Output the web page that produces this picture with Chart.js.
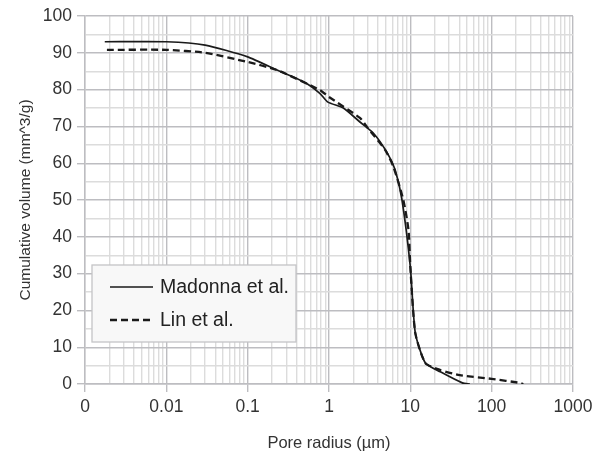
<!DOCTYPE html>
<html>
<head>
<meta charset="utf-8">
<script src="https://cdn.jsdelivr.net/npm/chart.js@4/dist/chart.umd.min.js"></script>
<style>
  html, body { margin: 0; padding: 0; background: #fff; }
  #wrap { width: 603px; height: 455px; position: relative; }
</style>
</head>
<body>
<div id="wrap"><canvas id="poreChart"></canvas></div>
<script>
// Courbes de porosimétrie : rayon de pore (µm) -> volume cumulé (mm^3/g)
const madonnaRadius = [0.00175, 0.01, 0.03, 0.1, 0.23, 0.5, 0.77, 0.97, 1.5, 2.4, 3.5, 5.2, 6.5, 7.9, 10, 11.5, 15.3, 23.4, 43.6, 54];
const madonnaVolume = [93, 93, 92.1, 88.9, 85.3, 82, 79, 76.6, 75, 71.2, 68.2, 62.8, 58.2, 50, 31.8, 13.9, 5.7, 3.3, 0.3, 0];

const linRadius = [0.00186, 0.01, 0.03, 0.1, 0.23, 0.77, 1, 2.4, 2.94, 4.9, 6.2, 8.2, 9.5, 10, 11.5, 15.3, 23.4, 40.6, 100, 223, 245];
const linVolume = [90.8, 90.8, 90, 87.5, 85.3, 79.9, 78, 72.3, 69.8, 63.6, 59, 50, 41.8, 31.8, 13.9, 5.7, 3.8, 2.4, 1.4, 0.3, 0];

// graduations de l'axe log (décades) et leurs libellés
const xDecades = [0.001, 0.01, 0.1, 1, 10, 100, 1000];
const xDecadeLabels = ['0', '0.01', '0.1', '1', '10', '100', '1000'];
const yMajorStep = 10;
const yMinorStep = 5;

const MAJOR_GRID = '#bdbdc1';
const MINOR_GRID = '#dcdcdc';
const TEXT = '#333333';
const FONT = "'Liberation Sans', Arial, sans-serif";

function toPoints(xs, ys) {
    return xs.map((x, i) => ({ x: x, y: ys[i] }));
}

function decadeIndex(v) {
    return xDecades.findIndex(d => Math.abs(Math.log10(v) - Math.log10(d)) < 1e-6);
}

// légende dessinée dans la zone du graphique
const insideLegend = {
    id: 'insideLegend',
    afterDatasetsDraw(chart, args, opts) {
        const ctx = chart.ctx;
        const a = chart.chartArea;
        const x = a.left + opts.offsetX;
        const y = a.top + opts.offsetY;
        ctx.save();
        ctx.fillStyle = '#f8f8f8';
        ctx.strokeStyle = '#c4c4c6';
        ctx.lineWidth = 1.3;
        ctx.fillRect(x, y, opts.width, opts.height);
        ctx.strokeRect(x, y, opts.width, opts.height);
        ctx.font = opts.fontSize + 'px ' + FONT;
        ctx.textBaseline = 'middle';
        chart.data.datasets.forEach((ds, i) => {
            const ly = y + opts.firstRow + i * opts.rowGap;
            ctx.beginPath();
            ctx.strokeStyle = ds.borderColor;
            ctx.lineWidth = ds.borderWidth;
            ctx.setLineDash(ds.borderDash || []);
            ctx.moveTo(x + 18, ly);
            ctx.lineTo(x + 61, ly);
            ctx.stroke();
            ctx.setLineDash([]);
            ctx.fillStyle = '#222';
            ctx.fillText(ds.label, x + 68, ly + 1);
        });
        ctx.restore();
    }
};

new Chart(document.getElementById('poreChart'), {
    type: 'line',
    data: {
        datasets: [
            {
                label: 'Madonna et al.',
                data: toPoints(madonnaRadius, madonnaVolume),
                borderColor: '#1a1a1a',
                borderWidth: 1.7,
                pointRadius: 0,
                tension: 0.2,
                fill: false
            },
            {
                label: 'Lin et al.',
                data: toPoints(linRadius, linVolume),
                borderColor: '#1a1a1a',
                borderWidth: 2.3,
                borderDash: [7, 4],
                pointRadius: 0,
                tension: 0.2,
                fill: false
            }
        ]
    },
    options: {
        responsive: true,
        maintainAspectRatio: false,
        animation: false,
        layout: { padding: { top: 16, right: 30, left: 0, bottom: 0 } },
        plugins: {
            legend: { display: false },
            tooltip: { enabled: false },
            insideLegend: {
                offsetX: 7, offsetY: 249, width: 204, height: 77,
                firstRow: 22, rowGap: 33, fontSize: 19.5
            }
        },
        scales: {
            x: {
                type: 'logarithmic',
                min: xDecades[0],
                max: xDecades[xDecades.length - 1],
                afterBuildTicks(scale) {
                    const ticks = [];
                    xDecades.forEach((d, i) => {
                        ticks.push({ value: d, major: true });
                        if (i < xDecades.length - 1) {
                            for (let k = 2; k <= 9; k++) ticks.push({ value: d * k, major: false });
                        }
                    });
                    scale.ticks = ticks;
                },
                afterFit(scale) { scale.height = 71; },
                ticks: {
                    autoSkip: false,
                    maxRotation: 0,
                    padding: 5,
                    color: TEXT,
                    font: { family: FONT, size: 17.5 },
                    callback(value) {
                        const i = decadeIndex(value);
                        return i >= 0 ? xDecadeLabels[i] : '';
                    }
                },
                grid: {
                    color: c => (c.tick && decadeIndex(c.tick.value) >= 0) ? MAJOR_GRID : MINOR_GRID,
                    tickColor: c => (c.tick && decadeIndex(c.tick.value) >= 0) ? MAJOR_GRID : 'rgba(0,0,0,0)',
                    lineWidth: 1.4,
                    tickLength: 8
                },
                border: { color: MAJOR_GRID, width: 1.4 },
                title: {
                    display: true,
                    text: 'Pore radius (µm)',
                    color: TEXT,
                    font: { family: FONT, size: 16.5 },
                    padding: { top: 12, bottom: 2 }
                }
            },
            y: {
                min: 0,
                max: 100,
                afterFit(scale) { scale.width = 85; },
                ticks: {
                    stepSize: yMinorStep,
                    autoSkip: false,
                    padding: 5,
                    color: TEXT,
                    font: { family: FONT, size: 17.5 },
                    callback: v => (v % yMajorStep === 0 ? v : '')
                },
                grid: {
                    color: c => (c.tick && c.tick.value % yMajorStep === 0) ? MAJOR_GRID : MINOR_GRID,
                    tickColor: c => (c.tick && c.tick.value % yMajorStep === 0) ? MAJOR_GRID : 'rgba(0,0,0,0)',
                    lineWidth: 1.4,
                    tickLength: 8
                },
                border: { color: MAJOR_GRID, width: 1.4 },
                title: {
                    display: true,
                    text: 'Cumulative volume (mm^3/g)',
                    color: TEXT,
                    font: { family: FONT, size: 15.5 },
                    padding: { top: 16, bottom: 0 }
                }
            }
        }
    },
    plugins: [insideLegend]
});
</script>
</body>
</html>
